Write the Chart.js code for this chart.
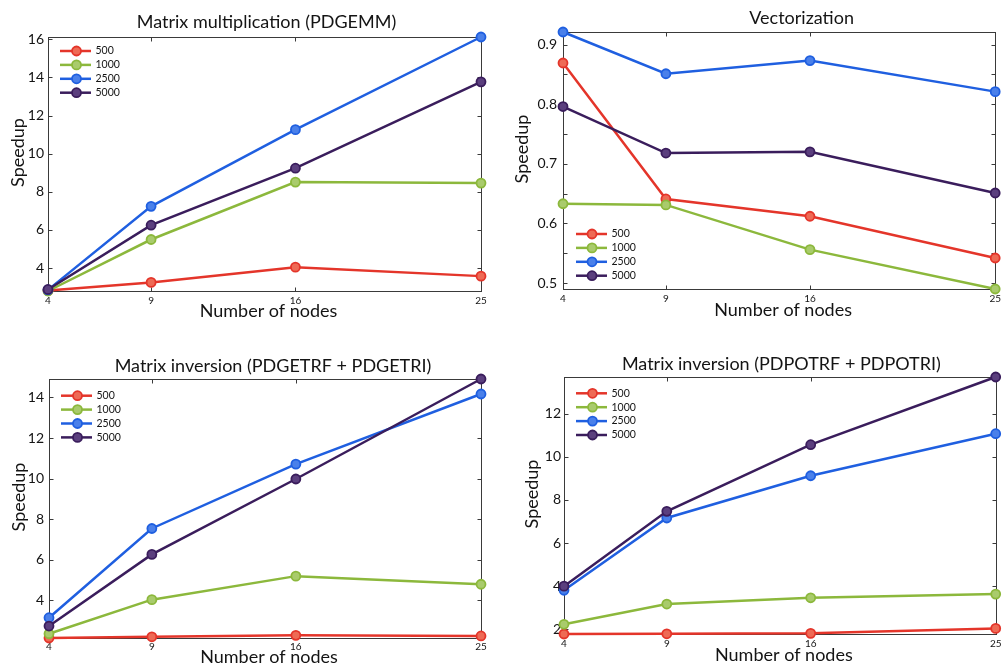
<!DOCTYPE html>
<html>
<head>
<meta charset="utf-8">
<script src="https://cdn.jsdelivr.net/npm/chart.js@4.4.1/dist/chart.umd.min.js"></script>
<style>
  html, body { margin: 0; padding: 0; background: #fff; }
  #wrap { position: relative; width: 1005px; height: 668px; overflow: hidden; background: #fff; }
  canvas { position: absolute; }
</style>
</head>
<body>
<div id="wrap">
  <canvas id="c1" width="500" height="330" style="left:0px;top:0px;width:500px;height:330px"></canvas>
  <canvas id="c2" width="505" height="330" style="left:500px;top:0px;width:505px;height:330px"></canvas>
  <canvas id="c3" width="500" height="338" style="left:0px;top:330px;width:500px;height:338px"></canvas>
  <canvas id="c4" width="505" height="338" style="left:500px;top:330px;width:505px;height:338px"></canvas>
</div>
<script>
// ---------------- data ----------------
const nodes = [4, 9, 16, 25];
const xTickValues = [4, 9, 16, 25];
const seriesNames = ['500', '1000', '2500', '5000'];
const xAxisTitle = 'Number of nodes';
const yAxisTitle = 'Speedup';

// Panel 1: Matrix multiplication (PDGEMM)
const title1 = 'Matrix multiplication (PDGEMM)';
const gemm500  = [2.82, 3.25, 4.05, 3.58];
const gemm1000 = [2.80, 5.50, 8.51, 8.46];
const gemm2500 = [2.86, 7.24, 11.26, 16.12];
const gemm5000 = [2.88, 6.25, 9.24, 13.77];
const yTicks1 = [4, 6, 8, 10, 12, 14, 16];
const yLimits1 = [2.80, 16.12];

// Panel 2: Vectorization
const title2 = 'Vectorization';
const vec500  = [0.869, 0.641, 0.612, 0.542];
const vec1000 = [0.633, 0.631, 0.556, 0.490];
const vec2500 = [0.921, 0.851, 0.873, 0.821];
const vec5000 = [0.796, 0.718, 0.720, 0.651];
const yTicks2 = [0.5, 0.6, 0.7, 0.8, 0.9];
const yMinorTicks2 = [0.55, 0.65, 0.75, 0.85];
const yLimits2 = [0.490, 0.921];

// Panel 3: Matrix inversion (PDGETRF + PDGETRI)
const title3 = 'Matrix inversion (PDGETRF + PDGETRI)';
const getri500  = [2.14, 2.20, 2.27, 2.24];
const getri1000 = [2.35, 4.03, 5.19, 4.79];
const getri2500 = [3.14, 7.54, 10.71, 14.17];
const getri5000 = [2.73, 6.26, 9.98, 14.91];
const yTicks3 = [4, 6, 8, 10, 12, 14];
const yLimits3 = [2.14, 14.91];

// Panel 4: Matrix inversion (PDPOTRF + PDPOTRI)
const title4 = 'Matrix inversion (PDPOTRF + PDPOTRI)';
const potri500  = [1.78, 1.79, 1.81, 2.04];
const potri1000 = [2.23, 3.17, 3.46, 3.63];
const potri2500 = [3.81, 7.16, 9.12, 11.07];
const potri5000 = [4.00, 7.47, 10.56, 13.70];
const yTicks4 = [2, 4, 6, 8, 10, 12];
const yLimits4 = [1.78, 13.70];

// ---------------- styles ----------------
const lineColors   = ['#e4352a', '#8cb83c', '#1f5fe0', '#3a1d5c'];
const markerFills  = ['#ee6a55', '#a9cb6c', '#4a80ea', '#5b3f7e'];
const FONT = 'Lato, "Open Sans", "DejaVu Sans", sans-serif';
Chart.defaults.font.family = FONT;
Chart.defaults.color = '#141414';

// MATLAB-like axes box, inward ticks, inner legend, and small label offsets
const matlabAxes = {
  id: 'matlabAxes',
  afterLayout(chart, args, o) {
    if (chart.titleBlock && o.titleDx) {
      chart.titleBlock.left += o.titleDx;
      chart.titleBlock.right += o.titleDx;
    }
    const xs = chart.scales.x, ys = chart.scales.y;
    if (o.yTitleDy) { ys.top += o.yTitleDy; ys.bottom += o.yTitleDy; }
    if (o.xTitleDx) { xs.left += o.xTitleDx; xs.right += o.xTitleDx; }
  },
  beforeDatasetsDraw(chart, args, o) {
    const ctx = chart.ctx, a = chart.chartArea;
    const xs = chart.scales.x, ys = chart.scales.y;
    const tl = o.tickLength;
    const L = Math.round(a.left) + 0.5, R = Math.round(a.right) + 0.5;
    const T = Math.round(a.top) + 0.5, B = Math.round(a.bottom) + 0.5;
    ctx.save();
    ctx.strokeStyle = o.color;
    ctx.lineWidth = 1;
    ctx.strokeRect(L, T, R - L, B - T);
    ctx.beginPath();
    xs.ticks.forEach(t => {
      const px = Math.round(xs.getPixelForValue(t.value)) + 0.5;
      ctx.moveTo(px, B); ctx.lineTo(px, B - tl);
      ctx.moveTo(px, T); ctx.lineTo(px, T + tl);
    });
    ys.ticks.map(t => t.value).concat(o.minorY || []).forEach(v => {
      const py = Math.round(ys.getPixelForValue(v)) + 0.5;
      ctx.moveTo(L, py); ctx.lineTo(L + tl, py);
      ctx.moveTo(R, py); ctx.lineTo(R - tl, py);
    });
    ctx.stroke();
    ctx.restore();
  },
  afterDatasetsDraw(chart, args, o) {
    const lg = o.legend;
    if (!lg) return;
    const ctx = chart.ctx, a = chart.chartArea;
    const ds = chart.data.datasets;
    const n = ds.length;
    ctx.save();
    ds.forEach((d, i) => {
      const y = lg.anchor === 'top'
        ? a.top + lg.first + i * lg.gap
        : a.bottom - lg.last - (n - 1 - i) * lg.gap;
      ctx.strokeStyle = d.borderColor;
      ctx.lineWidth = d.borderWidth;
      ctx.beginPath();
      ctx.moveTo(a.left + lg.lineStart, y);
      ctx.lineTo(a.left + lg.lineEnd, y);
      ctx.stroke();
      ctx.beginPath();
      ctx.arc(a.left + lg.marker, y, d.pointRadius, 0, Math.PI * 2);
      ctx.fillStyle = d.pointBackgroundColor;
      ctx.fill();
      ctx.lineWidth = d.pointBorderWidth;
      ctx.strokeStyle = d.pointBorderColor;
      ctx.stroke();
      ctx.fillStyle = '#141414';
      ctx.font = lg.fontSize + 'px ' + FONT;
      ctx.textBaseline = 'middle';
      ctx.textAlign = 'left';
      ctx.fillText(d.label, a.left + lg.text, y);
    });
    ctx.restore();
  }
};

function makeDatasets(seriesList) {
  return seriesList.map((vals, i) => ({
    label: seriesNames[i],
    data: nodes.map((x, j) => ({ x: x, y: vals[j] })),
    borderColor: lineColors[i],
    backgroundColor: lineColors[i],
    borderWidth: 2.5,
    pointRadius: 4.5,
    pointBorderWidth: 1.8,
    pointBorderColor: lineColors[i],
    pointBackgroundColor: markerFills[i],
    tension: 0,
    clip: false,
    order: seriesList.length - 1 - i
  }));
}

function makePanel(id, p) {
  new Chart(document.getElementById(id), {
    type: 'line',
    data: { datasets: makeDatasets(p.series) },
    plugins: [matlabAxes],
    options: {
      responsive: false,
      animation: false,
      events: [],
      layout: { padding: { left: 0, top: 0, bottom: 0, right: p.padRight } },
      scales: {
        x: {
          type: 'linear',
          min: xTickValues[0],
          max: xTickValues[xTickValues.length - 1],
          afterBuildTicks: s => { s.ticks = xTickValues.map(v => ({ value: v })); },
          afterFit: s => { s.height = p.xAxisH; },
          grid: { display: false, drawTicks: false },
          border: { display: false },
          ticks: {
            autoSkip: false, maxRotation: 0, minRotation: 0,
            padding: p.xTickPad,
            font: { size: 10 },
            callback: v => String(v)
          },
          title: {
            display: true, text: xAxisTitle,
            font: { size: 18 },
            padding: { top: 0, bottom: p.xTitlePad }
          }
        },
        y: {
          type: 'linear',
          min: p.yLimits[0],
          max: p.yLimits[1],
          afterBuildTicks: s => { s.ticks = p.yTicks.map(v => ({ value: v })); },
          afterFit: s => { s.width = p.yAxisW; },
          grid: { display: false, drawTicks: false },
          border: { display: false },
          ticks: {
            autoSkip: false,
            padding: p.yTickPad,
            font: { size: 14 },
            callback: v => String(v)
          },
          title: {
            display: true, text: yAxisTitle,
            font: { size: 18 },
            padding: { top: p.yTitlePad, bottom: 0 }
          }
        }
      },
      plugins: {
        legend: { display: false },
        tooltip: { enabled: false },
        title: {
          display: true, text: p.title,
          fullSize: false,
          font: { size: 18, weight: 'normal' },
          color: '#141414',
          padding: { top: p.titlePadTop, bottom: p.titlePadBottom }
        },
        matlabAxes: {
          color: '#3a3a3a',
          tickLength: 4,
          minorY: p.minorY || [],
          titleDx: p.titleDx,
          yTitleDy: -11.5,
          xTitleDx: 4,
          legend: p.legend
        }
      }
    }
  });
}

const legendTop = (first) => ({ anchor: 'top', first: first, gap: 13.9, lineStart: 12, lineEnd: 43, marker: 28.5, text: 47.5, fontSize: 10.5 });
const legendBottom = (last) => ({ anchor: 'bottom', last: last, gap: 13.9, lineStart: 13, lineEnd: 44, marker: 29, text: 48.5, fontSize: 10.5 });

makePanel('c1', {
  title: title1, series: [gemm500, gemm1000, gemm2500, gemm5000],
  yTicks: yTicks1, yLimits: yLimits1,
  padRight: 19, yAxisW: 48, xAxisH: 39,
  titlePadTop: 10.9, titlePadBottom: 4.5, titleDx: 2,
  xTickPad: 4, xTitlePad: 7.7, yTickPad: 4, yTitlePad: 7,
  legend: legendTop(14)
});
makePanel('c2', {
  title: title2, series: [vec500, vec1000, vec2500, vec5000],
  yTicks: yTicks2, yLimits: yLimits2, minorY: yMinorTicks2,
  padRight: 9, yAxisW: 63, xAxisH: 41,
  titlePadTop: 7, titlePadBottom: 3.4, titleDx: 22.5,
  xTickPad: 4, xTitlePad: 9.2, yTickPad: 6, yTitlePad: 11.6,
  legend: legendBottom(13.3)
});
makePanel('c3', {
  title: title3, series: [getri500, getri1000, getri2500, getri5000],
  yTicks: yTicks3, yLimits: yLimits3,
  padRight: 19, yAxisW: 49, xAxisH: 30,
  titlePadTop: 25.5, titlePadBottom: 1.9, titleDx: 8,
  xTickPad: 3, xTitlePad: -0.3, yTickPad: 5, yTitlePad: 8,
  legend: legendTop(16.7)
});
makePanel('c4', {
  title: title4, series: [potri500, potri1000, potri2500, potri5000],
  yTicks: yTicks4, yLimits: yLimits4,
  padRight: 8, yAxisW: 64, xAxisH: 34,
  titlePadTop: 22.9, titlePadBottom: 2.5, titleDx: 1.5,
  xTickPad: 3.5, xTitlePad: 2.2, yTickPad: 3, yTitlePad: 21.6,
  legend: legendTop(16.3)
});
</script>
</body>
</html>
